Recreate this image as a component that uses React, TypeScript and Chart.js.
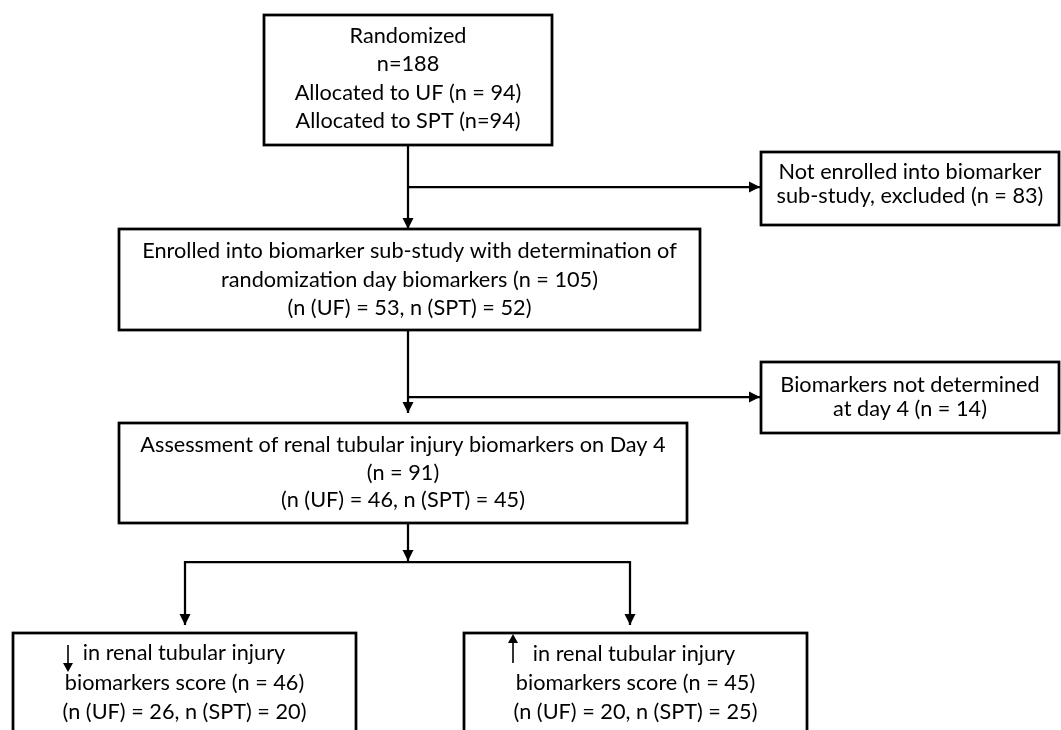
import { useEffect, useRef } from "react";
import { Chart, registerables } from "chart.js";

Chart.register(...registerables);

// ---- content ----
const boxTexts: string[][] = [
  ["Randomized", "n=188", "Allocated to UF (n = 94)", "Allocated to SPT (n=94)"],
  ["Not enrolled into biomarker", "sub-study, excluded (n = 83)"],
  [
    "Enrolled into biomarker sub-study with determination of",
    "randomization day biomarkers (n = 105)",
    "(n (UF) = 53, n (SPT) = 52)",
  ],
  ["Biomarkers not determined", "at day 4 (n = 14)"],
  [
    "Assessment of renal tubular injury biomarkers on Day 4",
    "(n = 91)",
    "(n (UF) = 46, n (SPT) = 45)",
  ],
  ["in renal tubular injury", "biomarkers score (n = 46)", "(n (UF) = 26, n (SPT) = 20)"],
  ["in renal tubular injury", "biomarkers score (n = 45)", "(n (UF) = 20, n (SPT) = 25)"],
];

// ---- layout (data-space coordinates, y grows downward) ----
const boxLeft = [264, 761, 119, 761, 119, 13, 464];
const boxRight = [552, 1059, 700, 1059, 687, 356, 807];
const boxTop = [15, 152, 229, 362, 423, 633, 633];
const boxBottom = [145, 225, 330, 433, 523, 760, 760];
const firstBaseline = [43, 179, 258, 392, 452, 660, 661];
const lineGap = [28.3, 24, 28.5, 24, 27.5, 29.5, 29];
const firstLineIndent = [0, 0, 0, 0, 0, 18, 17];

const connectorPaths: number[][][] = [
  [[408, 145], [408, 229]],
  [[408, 187], [760, 187]],
  [[408, 330], [408, 413]],
  [[408, 397], [760, 397]],
  [[408, 523], [408, 561]],
  [[185, 625], [185, 562], [630, 562], [630, 625]],
];
const arrowAtStart = [false, false, false, false, false, true];
const arrowAtEnd = [true, true, true, true, true, true];

const glyphArrows: number[][][] = [
  [[68, 645], [68, 672]],
  [[513, 663], [513, 634]],
];

const FONT_FAMILY = 'Lato, "Noto Sans", sans-serif';
const REF_LINE = "Not enrolled into biomarker";
const REF_WIDTH = 263;

function drawHead(ctx: CanvasRenderingContext2D, tx: number, ty: number, fx: number, fy: number, len: number, half: number) {
  const dx = tx - fx;
  const dy = ty - fy;
  const d = Math.hypot(dx, dy) || 1;
  const ux = dx / d;
  const uy = dy / d;
  const bx = tx - ux * len;
  const by = ty - uy * len;
  ctx.beginPath();
  ctx.moveTo(tx, ty);
  ctx.lineTo(bx - uy * half, by + ux * half);
  ctx.lineTo(bx + uy * half, by - ux * half);
  ctx.closePath();
  ctx.fill();
}

const flowPlugin = {
  id: "flowPlugin",
  afterDatasetsDraw(chart: any) {
    const ctx: CanvasRenderingContext2D = chart.ctx;
    const xs = chart.scales.x;
    const ys = chart.scales.y;
    const px = (v: number) => xs.getPixelForValue(v);
    const py = (v: number) => ys.getPixelForValue(v);

    ctx.save();
    ctx.font = `100px ${FONT_FAMILY}`;
    const fontSize = (100 * REF_WIDTH) / ctx.measureText(REF_LINE).width;
    ctx.font = `${fontSize}px ${FONT_FAMILY}`;

    // arrow heads of connectors
    ctx.fillStyle = "#000";
    connectorPaths.forEach((path, i) => {
      if (arrowAtEnd[i]) {
        const a = path[path.length - 1];
        const b = path[path.length - 2];
        drawHead(ctx, px(a[0]), py(a[1]), px(b[0]), py(b[1]), 11, 5.5);
      }
      if (arrowAtStart[i]) {
        const a = path[0];
        const b = path[1];
        drawHead(ctx, px(a[0]), py(a[1]), px(b[0]), py(b[1]), 11, 5.5);
      }
    });

    // boxes
    boxTexts.forEach((lines, i) => {
      const x0 = px(boxLeft[i]);
      const x1 = px(boxRight[i]);
      const y0 = py(boxTop[i]);
      const y1 = py(boxBottom[i]);
      ctx.fillStyle = "#fff";
      ctx.fillRect(x0, y0, x1 - x0, y1 - y0);
      ctx.strokeStyle = "#000";
      ctx.lineWidth = 2.75;
      ctx.strokeRect(x0, y0, x1 - x0, y1 - y0);

      ctx.fillStyle = "#000";
      ctx.textBaseline = "alphabetic";
      const cx = (x0 + x1) / 2;
      lines.forEach((t, j) => {
        const y = py(firstBaseline[i] + j * lineGap[i]);
        if (j === 0 && firstLineIndent[i] > 0 && lines.length > 1) {
          const w2 = ctx.measureText(lines[1]).width;
          ctx.textAlign = "left";
          ctx.fillText(t, cx - w2 / 2 + firstLineIndent[i], y);
        } else {
          ctx.textAlign = "center";
          ctx.fillText(t, cx, y);
        }
      });
    });

    // small arrow glyphs inside the bottom boxes
    ctx.strokeStyle = "#000";
    ctx.fillStyle = "#000";
    ctx.lineWidth = 1.6;
    glyphArrows.forEach((g) => {
      const [a, b] = g;
      ctx.beginPath();
      ctx.moveTo(px(a[0]), py(a[1]));
      ctx.lineTo(px(b[0]), py(b[1]) - Math.sign(py(b[1]) - py(a[1])) * 6);
      ctx.stroke();
      drawHead(ctx, px(b[0]), py(b[1]), px(a[0]), py(a[1]), 9, 5);
    });
    ctx.restore();
  },
};

export default function App() {
  const ref = useRef<HTMLCanvasElement | null>(null);

  useEffect(() => {
    document.body.style.margin = "0";
    if (!ref.current) return;
    const datasets = connectorPaths.map((path) => ({
      data: path.map((p) => ({ x: p[0], y: p[1] })),
      showLine: true,
      borderColor: "#000",
      borderWidth: 2.25,
      pointRadius: 0,
      tension: 0,
      fill: false,
      clip: false as any,
      borderJoinStyle: "miter" as const,
    }));
    const chart = new Chart(ref.current, {
      type: "scatter",
      data: { datasets },
      options: {
        animation: false,
        responsive: false,
        events: [],
        layout: { padding: 0 },
        plugins: { legend: { display: false }, tooltip: { enabled: false } },
        scales: {
          x: { type: "linear", min: 0, max: 1061, display: false },
          y: { type: "linear", min: 0, max: 730, reverse: true, display: false },
        },
      },
      plugins: [flowPlugin],
    });
    return () => chart.destroy();
  }, []);

  return (
    <div style={{ position: "absolute", left: 0, top: 0, width: 1061, height: 730, background: "#fff" }}>
      <canvas ref={ref} width={1061} height={730} style={{ display: "block" }} />
    </div>
  );
}
